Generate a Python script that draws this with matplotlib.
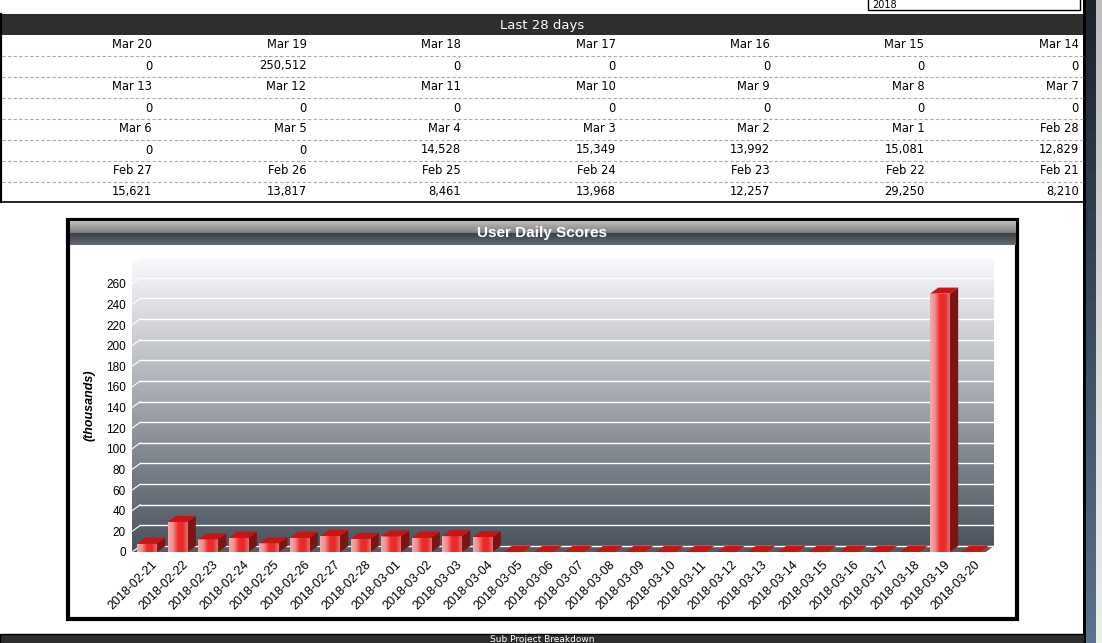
import matplotlib.pyplot as plt
import numpy as np
import pandas as pd
from matplotlib.colors import LinearSegmentedColormap, to_rgb
from matplotlib.patches import Rectangle, Polygon
from matplotlib.transforms import ScaledTranslation

plt.rcParams['font.family'] = ['Liberation Sans', 'DejaVu Sans']

# data
dates = pd.date_range("2018-02-21", "2018-03-20")
date_labels = [d.strftime("%Y-%m-%d") for d in dates]
short_labels = [d.strftime("%b ") + str(d.day) for d in dates]
scores = [8210, 29250, 12257, 13968, 8461, 13817, 15621, 12829, 15081, 13992, 15349, 14528,
          0, 0, 0, 0, 0, 0, 0, 0, 0, 0, 0, 0, 0, 0, 250512, 0]
y_ticks = list(range(0, 261, 20))

W, H = 1102, 643
fig = plt.figure(figsize=(W / 100, H / 100), dpi=100)

# page layer in pixel coords
page = fig.add_axes([0, 0, 1, 1])
page.set_xlim(0, W)
page.set_ylim(H, 0)
page.axis('off')

DARK = '#2e2e2e'
PAGE_FONT = 'DejaVu Sans'


def vgrad(top, bottom, n=64):
    a, b = np.array(to_rgb(top)), np.array(to_rgb(bottom))
    t = np.linspace(0, 1, n).reshape(-1, 1, 1)
    return a + (b - a) * t


# year box
page.add_patch(Rectangle((868, -3), 212, 13, fc='white', ec='black', lw=1))
page.text(872, 8, '2018', fontsize=7, va='baseline', family=PAGE_FONT)

# header
page.add_patch(Rectangle((0, 14), 1084, 21, fc=DARK, ec='none'))
page.text(542, 25, 'Last 28 days', color='white', fontsize=9.5, ha='center', va='center',
          family=PAGE_FONT)

# table of last 28 days, newest first
rev_labels = short_labels[::-1]
rev_scores = scores[::-1]
for r in range(4):
    for c in range(7):
        k = r * 7 + c
        x = 152 + c * 154.5
        page.text(x, 45 + r * 42, rev_labels[k], fontsize=8.3, ha='right', va='center',
                  family=PAGE_FONT)
        page.text(x, 66 + r * 42, f'{rev_scores[k]:,}', fontsize=8.3, ha='right', va='center',
                  family=PAGE_FONT)
for k in range(7):
    yy = 55.5 + k * 21
    page.plot([2, 1083], [yy, yy], color='#aaaaaa', lw=0.8, ls=(0, (3, 2)))
page.plot([0, 1084], [202, 202], color='black', lw=1.2)
page.plot([0.8, 0.8], [14, 202], color='black', lw=1.6)

# right border + scrollbar
page.add_patch(Rectangle((1083, 0), 3, H, fc='black', ec='none'))
page.imshow(vgrad('#1c242d', '#587290'), extent=(1086, 1096, H, 0), aspect='auto', zorder=1)
page.imshow(vgrad('#bdbdbd', '#ededed'), extent=(1096, 1102, H, 0), aspect='auto', zorder=1)

# chart panel
page.add_patch(Rectangle((67.5, 219.5), 949, 399, fc='white', ec='black', lw=3))
title_rgb = np.concatenate([vgrad('#bcbcbc', '#808080', 32), vgrad('#383e45', '#646c74', 32)])
page.imshow(title_rgb, extent=(69.5, 1015, 245, 221.5), aspect='auto', zorder=1)
page.text(542, 233, 'User Daily Scores', color='white', fontsize=11, fontweight='bold',
          ha='center', va='center', zorder=2)

# bottom bar
page.add_patch(Rectangle((0, 634), 1084, 12, fc=DARK, ec='black', lw=1))
page.text(542, 641.5, 'Sub Project Breakdown', color='white', fontsize=6.5,
          ha='center', va='baseline', family=PAGE_FONT)
page.set_xlim(0, W)
page.set_ylim(H, 0)

# chart axes
n = len(scores)
DX, DY, YTOP = 0.27, 5.8, 285
ax = fig.add_axes([132 / W, (H - 552) / H, 862 / W, 294 / H])
ax.set_facecolor('none')
for s in ax.spines.values():
    s.set_visible(False)

wall_cmap = LinearSegmentedColormap.from_list(
    'wall', ['#4a515a', '#737a83', '#a0a4ab', '#cfd1d6', '#f9f9fd'])
wall = ax.imshow(np.linspace(0, 1, 256).reshape(-1, 1), extent=(0, n + DX, 0, YTOP),
                 origin='lower', aspect='auto', cmap=wall_cmap, zorder=0)
wall_shape = Polygon([(0, 0), (0, YTOP - DY), (DX, YTOP), (n + DX, YTOP), (n + DX, DY), (DX, DY)],
                     closed=True, transform=ax.transData)
wall.set_clip_path(wall_shape)

ax.add_patch(Polygon([(0, 0), (n, 0), (n + DX, DY), (DX, DY)], fc='#555c65', ec='none', zorder=1))
for yv in y_ticks:
    ax.plot([DX, n + DX], [yv + DY, yv + DY], color='white', lw=1, zorder=1.5)
    ax.plot([0, DX], [yv, yv + DY], color='white', lw=0.8, zorder=1.5)

# 3d bars
vals = [s / 1000 for s in scores]
xs = [i + 0.5 for i in range(n)]
BW = 0.65
face_cmap = LinearSegmentedColormap.from_list(
    'face', ['#f2acac', '#ee8e8e', '#f22a2a', '#e62a2a', '#e27070'])
bars = ax.bar(xs, vals, BW, color='#e83a3a', zorder=3)
for b, v in zip(bars, vals):
    x0 = b.get_x()
    x1 = x0 + BW
    if v > 0:
        im = ax.imshow(np.linspace(0, 1, 64).reshape(1, -1), extent=(x0, x1, 0, v),
                       aspect='auto', cmap=face_cmap, zorder=3.1)
        im.set_clip_path(b)
        ax.add_patch(Polygon([(x1, 0), (x1 + DX, DY), (x1 + DX, v + DY), (x1, v)],
                             fc='#7c1414', ec='none', zorder=3))
    ax.add_patch(Polygon([(x0, v), (x1, v), (x1 + DX, v + DY), (x0 + DX, v + DY)],
                         fc='#c81414', ec='none', zorder=3.2))

ax.set_xlim(0, n + DX)
ax.set_ylim(0, YTOP)
ax.set_aspect('auto')

ax.set_xticks(xs)
ax.set_xticklabels(date_labels, rotation=45, ha='right', va='top', rotation_mode='anchor',
                   fontsize=9)
ax.tick_params(axis='x', length=0, pad=5)
for lbl in ax.get_xticklabels():
    lbl.set_transform(lbl.get_transform() + ScaledTranslation(0.04, 0, fig.dpi_scale_trans))
ax.set_yticks(y_ticks)
ax.tick_params(axis='y', length=0, pad=4.5, labelsize=8.5)
ax.set_ylabel('(thousands)', fontsize=9, fontweight='bold', fontstyle='italic')
ax.yaxis.set_label_coords(-0.042, 0.5)

fig.savefig('out.png', dpi=100)
